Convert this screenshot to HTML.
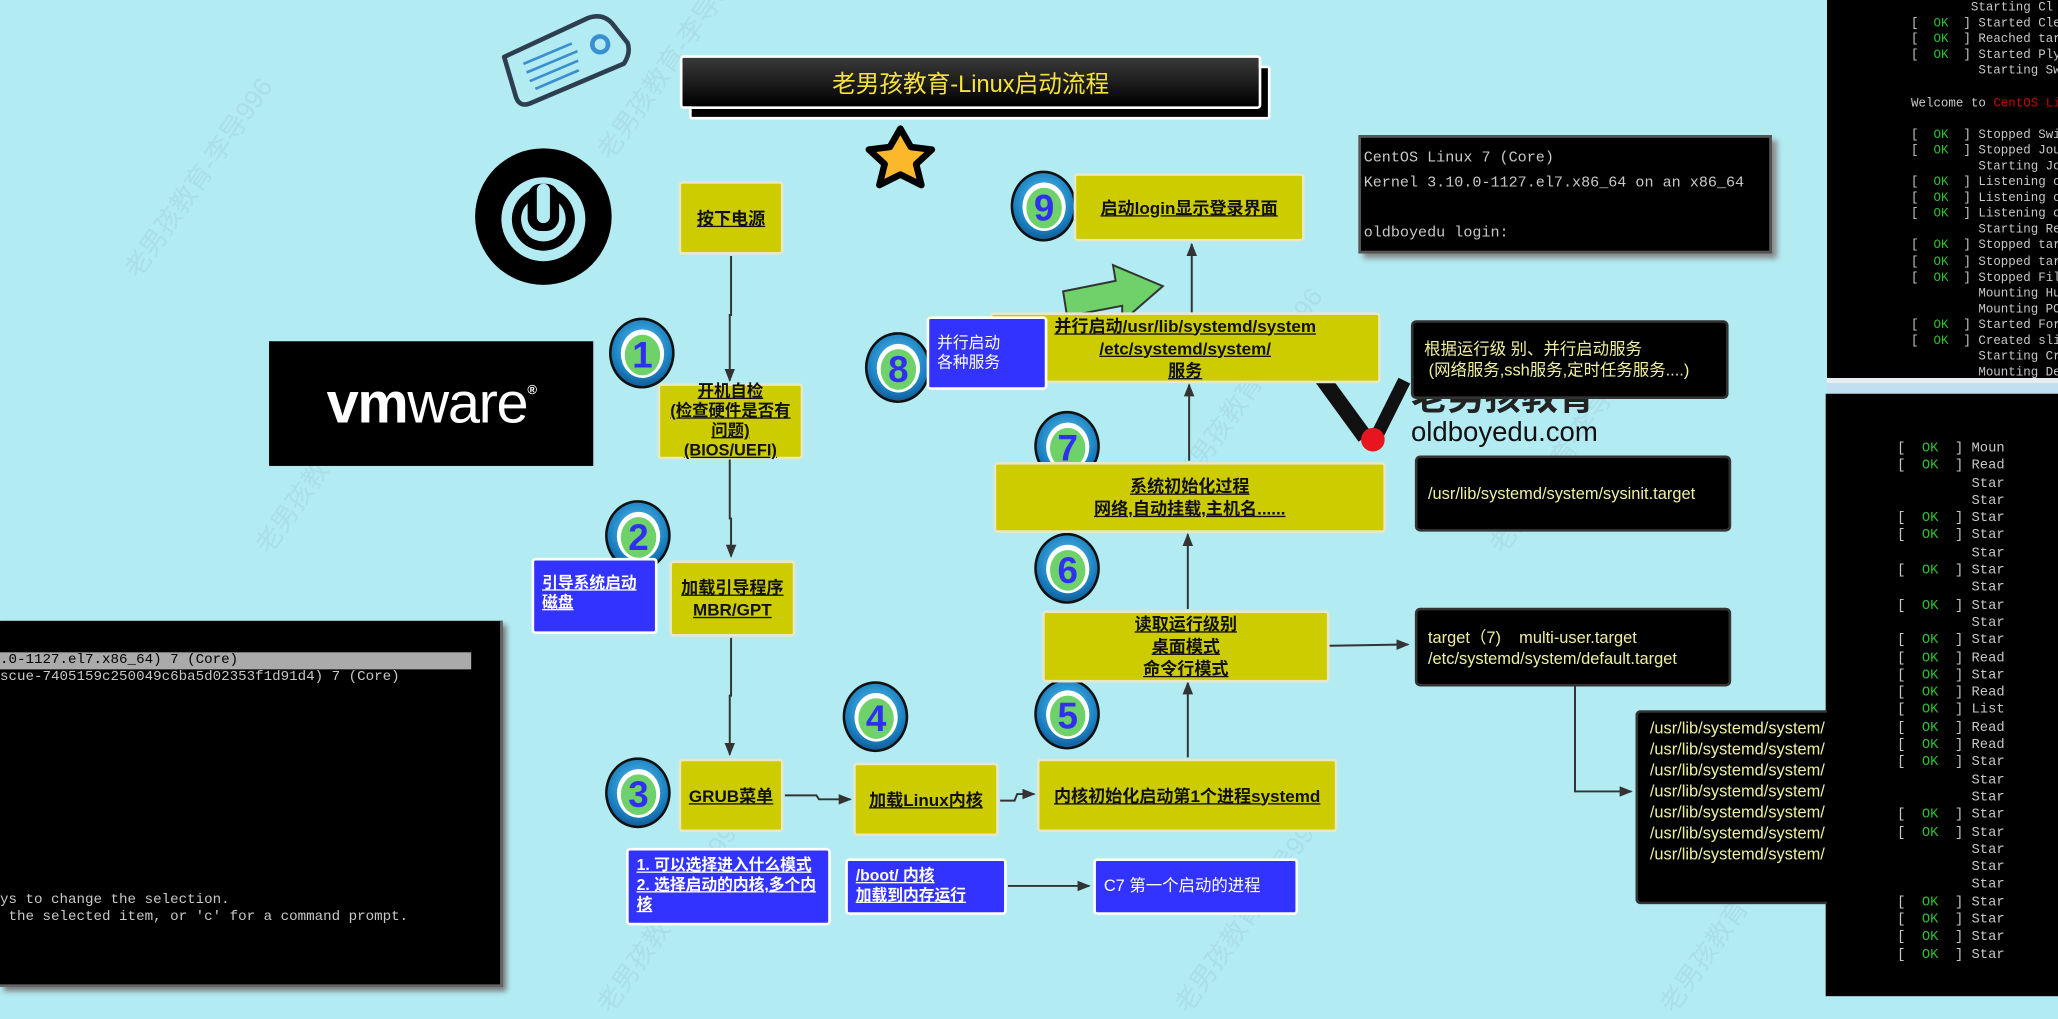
<!DOCTYPE html>
<html><head><meta charset="utf-8">
<style>
html,body{margin:0;padding:0;width:2058px;height:996px;overflow:hidden;background:#b2ebf2;}
#w{position:absolute;left:0;top:0;width:1568px;height:759px;transform:scale(1.3125);transform-origin:0 0;font-family:"Liberation Sans","Noto Sans CJK SC",sans-serif;}
.a{position:absolute;box-sizing:border-box;}
.y{background:#cccc00;border:2px solid #e8e8c8;border-radius:3px;display:flex;align-items:center;justify-content:center;text-align:center;font-weight:bold;font-size:13px;color:#111;text-decoration:underline;line-height:17px;}
.b{background:#3333ff;border:2px solid #fff;border-radius:3px;color:#fff;font-size:12px;line-height:15px;padding:4px 6px;}
.k{background:#000;border:2px solid #333;border-radius:4px;color:#f0f0a0;font-size:12.5px;line-height:16px;padding:6px 8px;}
.t{background:#000;font-family:"Liberation Mono",monospace;color:#c8c8c8;white-space:pre;overflow:hidden;}
.ok{color:#2fbf2f}
.wm{position:absolute;color:rgba(120,150,160,0.13);font-size:20px;transform:rotate(-55deg);white-space:nowrap;}
</style></head><body>
<div id="w">
<div class="wm" style="left:60px;top:120px">老男孩教育-李导996</div>
<div class="wm" style="left:420px;top:30px">老男孩教育-李导996</div>
<div class="wm" style="left:160px;top:330px">老男孩教育-李导996</div>
<div class="wm" style="left:860px;top:280px">老男孩教育-李导996</div>
<div class="wm" style="left:1100px;top:330px">老男孩教育-李导996</div>
<div class="wm" style="left:420px;top:680px">老男孩教育-李导996</div>
<div class="wm" style="left:860px;top:680px">老男孩教育-李导996</div>
<div class="wm" style="left:1230px;top:680px">老男孩教育-李导996</div>

<div class="a t" style="left:0;top:473px;width:383px;height:279px;font-size:10.8px;line-height:13px;box-shadow:3px 3px 4px #777;border-right:2px solid #666;border-bottom:2px solid #666;">
<div style="position:absolute;left:0;top:24px;width:359px;height:13px;background:#aaa;color:#000;line-height:13px">.0-1127.el7.x86_64) 7 (Core)</div><div style="position:absolute;left:0;top:37px">scue-7405159c250049c6ba5d02353f1d91d4) 7 (Core)</div><div style="position:absolute;left:0;top:207px">ys to change the selection.
 the selected item, or 'c' for a command prompt.</div></div>

<div class="a t" style="left:1392px;top:0;width:176px;height:288px;font-size:9.5px;line-height:12.1px;padding-left:64px;">        Starting Cl
[  <span class="ok">OK</span>  ] Started Cle
[  <span class="ok">OK</span>  ] Reached tar
[  <span class="ok">OK</span>  ] Started Ply
         Starting Sw

Welcome to <span style="color:#c00">CentOS Li</span>

[  <span class="ok">OK</span>  ] Stopped Swi
[  <span class="ok">OK</span>  ] Stopped Jou
         Starting Jo
[  <span class="ok">OK</span>  ] Listening o
[  <span class="ok">OK</span>  ] Listening o
[  <span class="ok">OK</span>  ] Listening o
         Starting Re
[  <span class="ok">OK</span>  ] Stopped tar
[  <span class="ok">OK</span>  ] Stopped tar
[  <span class="ok">OK</span>  ] Stopped Fil
         Mounting Hu
         Mounting PO
[  <span class="ok">OK</span>  ] Started For
[  <span class="ok">OK</span>  ] Created sli
         Starting Cr
         Mounting De
[  <span class="ok">OK</span>  ] Listening o</div>
<div class="a" style="left:1392px;top:288px;width:176px;height:4px;background:#e8eef0"></div>
<div class="a" style="left:1392px;top:292px;width:176px;height:8px;background:#c0e0f0"></div>
<div class="a t" style="left:1391px;top:300px;width:177px;height:459px;font-size:10.5px;line-height:13.3px;padding-top:36px;padding-left:4px;">        [  <span class="ok">OK</span>  ] Moun
        [  <span class="ok">OK</span>  ] Read
                 Star
                 Star
        [  <span class="ok">OK</span>  ] Star
        [  <span class="ok">OK</span>  ] Star
                 Star
        [  <span class="ok">OK</span>  ] Star
                 Star
        [  <span class="ok">OK</span>  ] Star
                 Star
        [  <span class="ok">OK</span>  ] Star
        [  <span class="ok">OK</span>  ] Read
        [  <span class="ok">OK</span>  ] Star
        [  <span class="ok">OK</span>  ] Read
        [  <span class="ok">OK</span>  ] List
        [  <span class="ok">OK</span>  ] Read
        [  <span class="ok">OK</span>  ] Read
        [  <span class="ok">OK</span>  ] Star
                 Star
                 Star
        [  <span class="ok">OK</span>  ] Star
        [  <span class="ok">OK</span>  ] Star
                 Star
                 Star
                 Star
        [  <span class="ok">OK</span>  ] Star
        [  <span class="ok">OK</span>  ] Star
        [  <span class="ok">OK</span>  ] Star
        [  <span class="ok">OK</span>  ] Star</div>

<div class="a t" style="left:1035px;top:103px;width:315px;height:90px;font-size:11.5px;line-height:19px;padding:6px 2px;border:2px solid #555;box-shadow:4px 4px 4px #888;">CentOS Linux 7 (Core)
Kernel 3.10.0-1127.el7.x86_64 on an x86_64

oldboyedu login:</div>

<div class="a" style="left:205px;top:260px;width:247px;height:95px;background:#000;color:#fff;font-size:44px;font-weight:bold;display:flex;align-items:center;justify-content:center;letter-spacing:-1px;">vm<span style="font-weight:normal">ware</span><span style="font-size:10px;vertical-align:top;margin-top:-20px">®</span></div>

<div class="a" style="left:525px;top:50px;width:443px;height:41px;background:#000;border:2px solid #fff;border-radius:2px"></div>
<div class="a" style="left:518px;top:42px;width:443px;height:41px;background:linear-gradient(#3a3a3a,#000);border:2px solid #fff;border-radius:3px;color:#f5e23a;font-size:18px;display:flex;align-items:center;justify-content:center;">老男孩教育-Linux启动流程</div>

<svg class="a" style="left:0;top:0" width="1568" height="759" viewBox="0 0 1568 759">
<defs>
<marker id="ar" markerWidth="10" markerHeight="8" refX="9" refY="4" orient="auto" markerUnits="userSpaceOnUse"><path d="M0,0 L10,4 L0,8 z" fill="#333"/></marker>
</defs>
<g transform="translate(378,12) rotate(-20 45 30)" fill="none" stroke="#2d3e50" stroke-width="3.5" stroke-linejoin="round">
<path d="M8,18 L78,12 Q90,12 94,22 L100,40 Q100,48 92,54 L14,58 Q6,58 6,50 Z" fill="#b2ebf2"/>
<circle cx="80" cy="34" r="6" stroke="#3a8fd0"/>
<g stroke="#3a8fd0" stroke-width="2"><line x1="20" y1="28" x2="60" y2="26"/><line x1="20" y1="35" x2="62" y2="33"/><line x1="20" y1="42" x2="60" y2="40"/><line x1="22" y1="49" x2="58" y2="47"/></g>
</g>
<path d="M686,98 L694,112 L710,114 L698,125 L702,141 L686,133 L670,141 L674,125 L662,114 L678,112 Z" fill="#fbb82a" stroke="#000" stroke-width="5" stroke-linejoin="round"/>
<circle cx="414" cy="165" r="52" fill="#000"/>
<circle cx="414" cy="167" r="32" fill="#b2ebf2"/>
<circle cx="414" cy="167" r="24" fill="#000"/>
<circle cx="414" cy="167" r="17" fill="#b2ebf2"/>
<rect x="402" y="140" width="24" height="36" rx="10" fill="#000"/>
<rect x="409" y="140" width="10" height="30" rx="5" fill="#b2ebf2"/>
<path d="M1005,285 L1040,333" stroke="#111" stroke-width="12"/>
<path d="M1070,290 L1050,330" stroke="#111" stroke-width="10"/>
<circle cx="1046" cy="335" r="9" fill="#e8151f"/>
<text x="1075" y="312" font-size="28" fill="#222" font-family="Noto Sans CJK SC,sans-serif" font-weight="bold">老男孩教育</text>
<text x="1075" y="336" font-size="21" fill="#111" font-family="Liberation Sans,sans-serif">oldboyedu.com</text>
<path d="M810,222 L850,214 L848,202 L886,218 L855,245 L855,233 L813,241 Z" fill="#6ed16a" stroke="#333" stroke-width="1.5"/>
<g stroke="#333" stroke-width="1.5" fill="none" marker-end="url(#ar)">
<path d="M557,195 L557,240 L556,240 L556,290"/>
<path d="M556,350 L556,395 L557,395 L557,424"/>
<path d="M557,486 L557,530 L556,530 L556,575"/>
<path d="M598,606 L622,606 L624,609 L648,609"/>
<path d="M762,610 L773,610 L775,605 L788,605"/>
<path d="M905,577 L905,520"/>
<path d="M905,464 L905,407"/>
<path d="M906,351 L906,293"/>
<path d="M908,238 L908,186"/>
<path d="M1013,492 L1073,491"/>
<path d="M1200,522 L1200,603 L1243,603"/>
<path d="M768,675 L830,675"/>
</g>
</svg>

<style>
.n{position:absolute;width:50px;height:54px;border-radius:50%;background:radial-gradient(circle at 50% 40%,#5ac8f0,#1a7fc0 60%,#0a3a70);border:2.5px solid #111;box-sizing:border-box;}
.n i{position:absolute;left:7px;top:7px;width:33px;height:37px;border-radius:50%;background:#fff;}
.n b{position:absolute;left:10px;top:11px;width:27px;height:31px;border-radius:50%;background:#6ed16a;color:#3030f0;font:bold 28px/31px "Liberation Sans Narrow","Liberation Sans",sans-serif;text-align:center;}
</style>
<div class="n" style="left:464px;top:242px"><i></i><b>1</b></div>
<div class="n" style="left:461px;top:381px"><i></i><b>2</b></div>
<div class="n" style="left:461px;top:577px"><i></i><b>3</b></div>
<div class="n" style="left:642px;top:519px"><i></i><b>4</b></div>
<div class="n" style="left:788px;top:517px"><i></i><b>5</b></div>
<div class="n" style="left:788px;top:406px"><i></i><b>6</b></div>
<div class="n" style="left:788px;top:313px"><i></i><b>7</b></div>
<div class="n" style="left:659px;top:253px"><i></i><b>8</b></div>
<div class="n" style="left:770px;top:130px"><i></i><b>9</b></div>

<div class="a y" style="left:517px;top:138px;width:80px;height:56px">按下电源</div>
<div class="a y" style="left:501px;top:292px;width:111px;height:58px;font-size:12.5px;line-height:15px">开机自检<br>(检查硬件是否有<br>问题)<br>(BIOS/UEFI)</div>
<div class="a y" style="left:510px;top:427px;width:96px;height:58px">加载引导程序<br>MBR/GPT</div>
<div class="a y" style="left:517px;top:578px;width:80px;height:56px">GRUB菜单</div>
<div class="a y" style="left:650px;top:581px;width:111px;height:56px">加载Linux内核</div>
<div class="a y" style="left:790px;top:578px;width:229px;height:56px">内核初始化启动第1个进程systemd</div>
<div class="a y" style="left:794px;top:465px;width:219px;height:55px">读取运行级别<br>桌面模式<br>命令行模式</div>
<div class="a y" style="left:757px;top:352px;width:299px;height:54px">系统初始化过程<br>网络,自动挂载,主机名......</div>
<div class="a y" style="left:754px;top:238px;width:298px;height:54px">并行启动/usr/lib/systemd/system<br>/etc/systemd/system/<br>服务</div>
<div class="a y" style="left:818px;top:132px;width:176px;height:52px">启动login显示登录界面</div>

<div class="a b" style="left:405px;top:425px;width:96px;height:58px;font-weight:bold;text-decoration:underline;padding-top:10px">引导系统启动<br>磁盘</div>
<div class="a b" style="left:706px;top:241px;width:92px;height:56px;padding-top:11px">并行启动<br>各种服务</div>
<div class="a b" style="left:477px;top:646px;width:156px;height:59px;font-weight:bold;text-decoration:underline;">1. 可以选择进入什么模式<br>2. 选择启动的内核,多个内核</div>
<div class="a b" style="left:644px;top:654px;width:123px;height:43px;font-weight:bold;text-decoration:underline;">/boot/ 内核<br>加载到内存运行</div>
<div class="a b" style="left:833px;top:654px;width:156px;height:43px;padding-top:12px;font-size:12.5px">C7 第一个启动的进程</div>

<div class="a k" style="left:1075px;top:244px;width:242px;height:60px;padding-top:12px">根据运行级 别、并行启动服务<br>&nbsp;(网络服务,ssh服务,定时任务服务....)</div>
<div class="a k" style="left:1078px;top:347px;width:241px;height:58px;padding-top:19px">/usr/lib/systemd/system/sysinit.target</div>
<div class="a k" style="left:1078px;top:463px;width:241px;height:60px;padding-top:13px">target（7)&nbsp;&nbsp;&nbsp;&nbsp;multi-user.target<br>/etc/systemd/system/default.target</div>
<div class="a k" style="left:1246px;top:541px;width:146px;height:148px;padding:4px 0 0 9px;font-size:12.5px;line-height:16px;border-right:none;border-radius:4px 0 0 4px;overflow:hidden;white-space:nowrap">/usr/lib/systemd/system/<br>/usr/lib/systemd/system/<br>/usr/lib/systemd/system/<br>/usr/lib/systemd/system/<br>/usr/lib/systemd/system/<br>/usr/lib/systemd/system/<br>/usr/lib/systemd/system/</div>
</div>
</body></html>
